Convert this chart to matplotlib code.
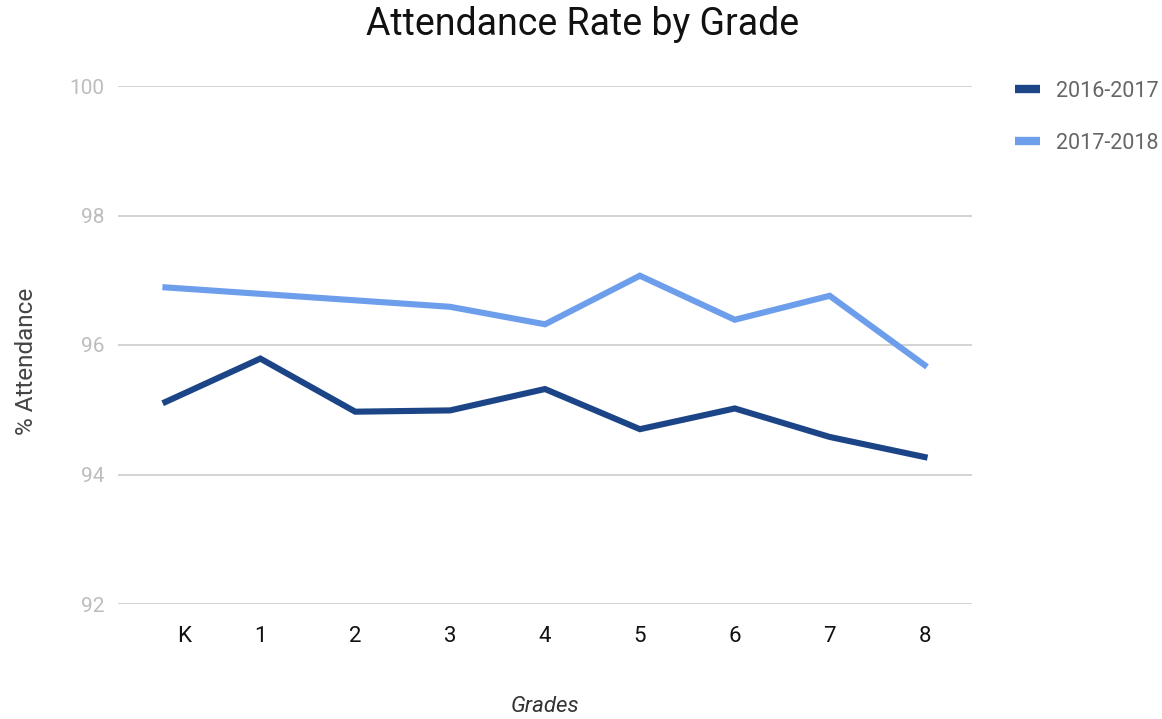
import matplotlib
matplotlib.use("Agg")
import matplotlib.pyplot as plt
import matplotlib.transforms as mtransforms
from matplotlib.lines import Line2D

plt.rcParams['font.family'] = ['Roboto', 'DejaVu Sans']

grades = ['K', '1', '2', '3', '4', '5', '6', '7', '8']
att_2016 = [95.12, 95.79, 94.97, 94.99, 95.32, 94.70, 95.02, 94.58, 94.27]
att_2017 = [96.89, 96.79, 96.69, 96.59, 96.32, 97.07, 96.39, 96.76, 95.69]
y_ticks = [92, 94, 96, 98, 100]

dark = '#1c4587'
light = '#6d9eeb'

W, H = 1162, 719
fig = plt.figure(figsize=(W / 100, H / 100), dpi=100)
ax = fig.add_axes([118 / W, 1 - 604 / H, (972 - 118) / W, (604 - 86) / H])

x = list(range(len(grades)))
ax.plot(x, att_2016, color=dark, lw=4.4, solid_joinstyle='miter', zorder=3)
ax.plot(x, att_2017, color=light, lw=4.4, solid_joinstyle='miter', zorder=3)

ax.set_xlim(-0.5, len(grades) - 0.5)
ax.set_ylim(92, 100)
ax.set_yticks(y_ticks)
ax.set_yticklabels([str(t) for t in y_ticks])
ax.set_xticks(x)
ax.set_xticklabels(grades)
ax.grid(axis='y', color='#cccccc', lw=1.2)
ax.set_axisbelow(True)
for s in ax.spines.values():
    s.set_visible(False)
ax.tick_params(axis='y', length=0, pad=10, labelsize=15, labelcolor='#bdbdbd')
ax.tick_params(axis='x', length=0, pad=16, labelsize=16, labelcolor='#111111')

# the K label sits a bit right of its point in the original
k_lbl = ax.get_xticklabels()[0]
k_lbl.set_transform(k_lbl.get_transform() + mtransforms.ScaledTranslation(0.19, 0, fig.dpi_scale_trans))

ax.set_ylabel('% Attendance', fontsize=17.5, color='#444444', ha='center', va='center')
ax.yaxis.set_label_coords((27 - 118) / 854, (604 - 361) / 518)
ax.set_xlabel('Grades', fontsize=16, color='#333333', style='italic', va='baseline')
ax.xaxis.set_label_coords(0.5, (604 - 712) / 518)

fig.text(583 / W, 1 - 35 / H, 'Attendance Rate by Grade', ha='center', va='baseline',
         fontsize=27, color='#111111')

handles = [Line2D([], [], color=dark, lw=6, solid_capstyle='butt'),
           Line2D([], [], color=light, lw=6, solid_capstyle='butt')]
leg = fig.legend(handles, ['2016-2017', '2017-2018'], loc='upper left',
                 bbox_to_anchor=(1015 / W, 1 - 81 / H), frameon=False,
                 borderaxespad=0, borderpad=0,
                 fontsize=15.5, handlelength=1.15, handletextpad=0.75,
                 labelspacing=1.42)
for t in leg.get_texts():
    t.set_color('#666666')

fig.savefig('out.png', dpi=100)
